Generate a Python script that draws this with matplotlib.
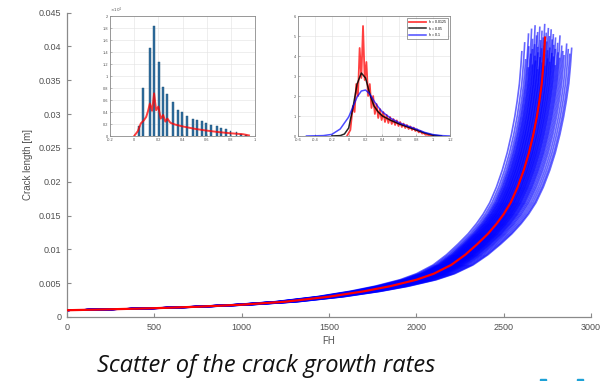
import matplotlib
matplotlib.use('Agg')
import matplotlib.pyplot as plt
import matplotlib.patches as patches
import numpy as np

plt.rcParams['font.family'] = ['Liberation Sans', 'DejaVu Sans']

# mean crack growth curve (red)
fh_mean = [0, 250, 500, 750, 1000, 1250, 1500, 1700, 1850, 2000, 2100, 2200, 2280,
           2350, 2410, 2460, 2500, 2540, 2580, 2615, 2645, 2670, 2690, 2705, 2718,
           2727, 2733, 2737, 2741, 2744]
crack_mean = [0.00100, 0.00114, 0.00130, 0.00152, 0.00182, 0.00226, 0.00300, 0.00380,
              0.00455, 0.00550, 0.00640, 0.00770, 0.00920, 0.01080, 0.01230, 0.01380,
              0.01520, 0.01690, 0.01920, 0.02170, 0.02430, 0.02700, 0.02960, 0.03200,
              0.03450, 0.03720, 0.03950, 0.04130, 0.04350, 0.04500]
red_end = 0.0413

# life factor of each scattered curve and its final crack length
life_factor = [0.953, 0.958, 0.962, 0.965, 0.967, 0.969, 0.971, 0.972, 0.974, 0.975,
               0.977, 0.978, 0.979, 0.981, 0.982, 0.983, 0.984, 0.986, 0.987, 0.988,
               0.989, 0.991, 0.992, 0.993, 0.994, 0.996, 0.997, 0.998, 0.999, 1.001,
               1.002, 1.003, 1.004, 1.006, 1.007, 1.008, 1.009, 1.011, 1.012, 1.013,
               1.015, 1.016, 1.017, 1.019, 1.020, 1.022, 1.023, 1.025, 1.027, 1.029,
               1.031, 1.033, 1.036, 1.039, 1.042, 1.046, 1.050, 1.054, 1.057]
final_crack = [0.0392, 0.0405, 0.0380, 0.0418, 0.0399, 0.0368, 0.0425, 0.0388, 0.0410, 0.0395,
               0.0372, 0.0430, 0.0402, 0.0385, 0.0415, 0.0378, 0.0420, 0.0398, 0.0390, 0.0428,
               0.0365, 0.0408, 0.0383, 0.0422, 0.0396, 0.0412, 0.0375, 0.0432, 0.0400, 0.0387,
               0.0419, 0.0370, 0.0406, 0.0426, 0.0393, 0.0381, 0.0414, 0.0397, 0.0424, 0.0376,
               0.0409, 0.0389, 0.0417, 0.0401, 0.0384, 0.0412, 0.0395, 0.0371, 0.0404, 0.0390,
               0.0415, 0.0382, 0.0400, 0.0392, 0.0386, 0.0403, 0.0395, 0.0388, 0.0397]

# inset 1: histogram of growth rates + fitted curve
hist_x = [0.042, 0.075, 0.128, 0.164, 0.203, 0.239, 0.275, 0.325, 0.361, 0.397, 0.436, 0.486,
          0.522, 0.558, 0.597, 0.633, 0.683, 0.722, 0.758, 0.797, 0.847, 0.886, 0.922]
hist_h = [0.17, 0.80, 1.47, 1.83, 1.23, 0.81, 0.70, 0.56, 0.44, 0.40, 0.33, 0.28,
          0.27, 0.25, 0.22, 0.18, 0.16, 0.14, 0.12, 0.09, 0.07, 0.035, 0.015]
fit1_x = [0.0, 0.03, 0.055, 0.08, 0.10, 0.115, 0.13, 0.148, 0.165, 0.182, 0.20, 0.22, 0.24,
          0.258, 0.275, 0.30, 0.34, 0.40, 0.50, 0.60, 0.70, 0.80, 0.90, 0.95]
fit1_y = [0.0, 0.08, 0.21, 0.26, 0.32, 0.42, 0.54, 0.42, 0.71, 0.43, 0.49, 0.29, 0.35,
          0.24, 0.29, 0.22, 0.19, 0.16, 0.12, 0.09, 0.065, 0.045, 0.03, 0.01]

# inset 2: kernel density estimates with three bandwidths
kde_red_x = [-0.02, 0.02, 0.05, 0.07, 0.09, 0.11, 0.13, 0.15, 0.17, 0.19, 0.21, 0.23, 0.25,
             0.27, 0.29, 0.31, 0.33, 0.35, 0.37, 0.39, 0.41, 0.43, 0.45, 0.47, 0.49, 0.51,
             0.53, 0.55, 0.57, 0.59, 0.61, 0.63, 0.65, 0.67, 0.69, 0.71, 0.73, 0.75, 0.77,
             0.79, 0.81, 0.83, 0.85, 0.87, 0.89, 0.91, 0.93, 0.96, 1.0]
kde_red_y = [0.0, 0.3, 1.5, 1.2, 2.6, 2.0, 4.4, 2.9, 5.5, 2.8, 3.7, 2.0, 2.6,
             1.4, 2.0, 1.1, 1.6, 0.9, 1.35, 0.8, 1.2, 0.7, 1.05, 0.65, 0.95, 0.6,
             0.85, 0.55, 0.78, 0.5, 0.7, 0.45, 0.62, 0.4, 0.55, 0.35, 0.48, 0.3, 0.42,
             0.25, 0.33, 0.18, 0.25, 0.12, 0.15, 0.06, 0.07, 0.02, 0.0]
kde_blk_x = [-0.2, -0.1, -0.05, 0.0, 0.05, 0.1, 0.15, 0.2, 0.25, 0.3, 0.35, 0.4, 0.5,
             0.6, 0.7, 0.8, 0.9, 1.0, 1.1]
kde_blk_y = [0.0, 0.02, 0.1, 0.4, 1.4, 2.6, 3.15, 2.9, 2.1, 1.5, 1.2, 1.0, 0.78,
             0.6, 0.45, 0.3, 0.15, 0.04, 0.0]
kde_blu_x = [-0.5, -0.3, -0.2, -0.1, 0.0, 0.05, 0.1, 0.15, 0.2, 0.25, 0.3, 0.35, 0.4,
             0.5, 0.6, 0.7, 0.8, 0.9, 1.0, 1.1, 1.2]
kde_blu_y = [0.0, 0.02, 0.08, 0.35, 0.95, 1.45, 1.95, 2.25, 2.3, 2.1, 1.75, 1.45, 1.2,
             0.88, 0.66, 0.5, 0.35, 0.18, 0.07, 0.02, 0.0]
kde_labels = ['h = 0.0125', 'h = 0.05', 'h = 0.1']

axis_gray = '#8a8a8a'
text_gray = '#505050'

fig = plt.figure(figsize=(6.06, 3.81), dpi=100)
fig.patch.set_facecolor('white')

# main axes
ax = fig.add_axes([67 / 606, (381 - 317) / 381, 524 / 606, 304.5 / 381])
fh = np.array(fh_mean)
cr = np.array(crack_mean)
for s, a_end in zip(life_factor, final_crack):
    n_end = np.interp(a_end, cr, fh)
    keep = cr < a_end
    x = np.append(fh[keep], n_end) * s
    y = np.append(cr[keep], a_end)
    ax.plot(x, y, color='#0000ff', lw=1.2, alpha=0.6, zorder=2)
n_red = np.interp(red_end, cr, fh)
keep = cr < red_end
ax.plot(np.append(fh[keep], n_red), np.append(cr[keep], red_end),
        color='#ff0000', lw=1.6, zorder=3)

ax.set_xlim(0, 3000)
ax.set_ylim(0, 0.045)
ax.set_xticks(np.arange(0, 3001, 500))
ax.set_yticks(np.arange(0, 0.0451, 0.005))
ax.set_yticklabels(['0', '0.005', '0.01', '0.015', '0.02', '0.025', '0.03', '0.035', '0.04', '0.045'])
for side in ['top', 'right']:
    ax.spines[side].set_visible(False)
for side in ['left', 'bottom']:
    ax.spines[side].set_color(axis_gray)
    ax.spines[side].set_linewidth(0.9)
ax.tick_params(direction='in', length=3, color=axis_gray, labelsize=6.5,
               labelcolor=text_gray, pad=4)
ax.set_xlabel('FH', fontsize=7, color=text_gray, labelpad=3)
ax.set_ylabel('Crack length [m]', fontsize=7, color=text_gray, labelpad=4)


def style_inset(a):
    for sp in a.spines.values():
        sp.set_color(axis_gray)
        sp.set_linewidth(0.6)
    a.tick_params(direction='in', length=1.5, width=0.4, color=axis_gray,
                  labelsize=2.8, labelcolor=text_gray, pad=1.5)
    a.grid(True, color='#e2e2e2', lw=0.4)
    a.set_axisbelow(True)


# inset 1
ax1 = fig.add_axes([110 / 606, (381 - 136) / 381, 145 / 606, 120 / 381])
ax1.bar(hist_x, hist_h, width=0.016, color='#2f6f9f', edgecolor='#1c4d75', lw=0.3, zorder=2)
ax1.plot(fit1_x, fit1_y, color='#ff0000', lw=1.4, alpha=0.75, zorder=3)
ax1.set_xlim(-0.2, 1.0)
ax1.set_ylim(0, 2)
ax1.set_xticks(np.arange(-0.2, 1.01, 0.2))
ax1.set_xticklabels(['-0.2', '0', '0.2', '0.4', '0.6', '0.8', '1'])
ax1.set_yticks(np.arange(0, 2.01, 0.2))
ax1.set_yticklabels(['0', '0.2', '0.4', '0.6', '0.8', '1', '1.2', '1.4', '1.6', '1.8', '2'])
ax1.text(0.0, 1.005, r'$\times 10^{4}$', transform=ax1.transAxes, fontsize=3,
         color=text_gray, ha='left', va='bottom')
style_inset(ax1)

# inset 2
ax2 = fig.add_axes([298 / 606, (381 - 136) / 381, 152 / 606, 120 / 381])
ax2.plot(kde_red_x, kde_red_y, color='#ff0000', lw=1.3, alpha=0.75, label=kde_labels[0])
ax2.plot(kde_blk_x, kde_blk_y, color='#000000', lw=1.1, alpha=0.85, label=kde_labels[1])
ax2.plot(kde_blu_x, kde_blu_y, color='#0000ff', lw=1.1, alpha=0.7, label=kde_labels[2])
ax2.set_xlim(-0.6, 1.2)
ax2.set_ylim(0, 6)
ax2.set_xticks(np.arange(-0.6, 1.21, 0.2))
ax2.set_xticklabels(['-0.6', '-0.4', '-0.2', '0', '0.2', '0.4', '0.6', '0.8', '1', '1.2'])
ax2.set_yticks(np.arange(0, 7, 1))
style_inset(ax2)
leg = ax2.legend(loc='upper right', fontsize=2.5, handlelength=5, borderpad=0.6,
                 labelspacing=0.8, frameon=True, fancybox=False, edgecolor='#555555')
leg.get_frame().set_linewidth(0.5)

# caption
fig.text(266 / 606, 1 - 366 / 381, 'Scatter of the crack growth rates', fontsize=17,
         style='italic', family=['Open Sans', 'DejaVu Sans'], color='#111111',
         ha='center', va='center')

# small logo fragments at the bottom edge
for x0 in [540, 577]:
    fig.add_artist(patches.Rectangle((x0 / 606, 0), 6 / 606, 2 / 381,
                                     transform=fig.transFigure, color='#1da1d6'))

fig.savefig('out.png', dpi=100)
